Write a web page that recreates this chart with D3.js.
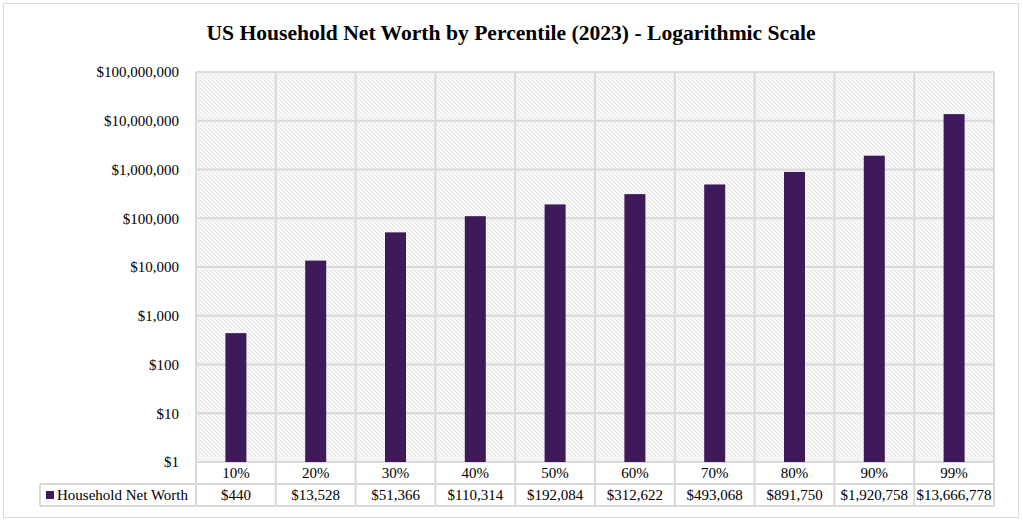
<!DOCTYPE html>
<html>
<head>
<meta charset="utf-8">
<script src="https://cdn.jsdelivr.net/npm/d3@7"></script>
<style>
	body { margin: 0; background: #fff; }
	text { font-family: "Liberation Serif", "Times New Roman", serif; fill: #000; }
</style>
</head>
<body>
<svg id="chart" width="1023" height="522"></svg>
<script>
// chart data
let percentiles = ["10%", "20%", "30%", "40%", "50%", "60%", "70%", "80%", "90%", "99%"];
let net_worth = [440, 13528, 51366, 110314, 192084, 312622, 493068, 891750, 1920758, 13666778];
let y_ticks = [1, 10, 100, 1000, 10000, 100000, 1000000, 10000000, 100000000];
let series_name = "Household Net Worth";
let chart_title = "US Household Net Worth by Percentile (2023) - Logarithmic Scale";

let bar_color = "#3f1a5a";
let grid_color = "#d9d9d9";

let plot_left = 196, plot_right = 994, plot_top = 72, plot_bottom = 462;
let row_h = 22;
let font_size = "15px";

let svg = d3.select("#chart");

// outer frame
svg.append("rect").attr("x", 3.5).attr("y", 3.5).attr("width", 1015).attr("height", 514)
	.attr("fill", "#fff").attr("stroke", grid_color).attr("stroke-width", 1);

// hatch pattern for plot background
let defs = svg.append("defs");
let pat = defs.append("pattern").attr("id", "hatch").attr("patternUnits", "userSpaceOnUse")
	.attr("width", 4).attr("height", 4);
pat.append("rect").attr("width", 4).attr("height", 4).attr("fill", "#f8f8f8");
pat.append("path").attr("d", "M-1,-1 L5,5 M-1,3 L1,5 M3,-1 L5,1")
	.attr("stroke", "#e6e6e6").attr("stroke-width", 1);

svg.append("text").attr("x", 511).attr("y", 40).attr("text-anchor", "middle")
	.style("font-size", "21.6px").style("font-weight", "bold").text(chart_title);

let x = d3.scaleBand().domain(percentiles).range([plot_left, plot_right]);
let y = d3.scaleLog().domain([1, 100000000]).range([plot_bottom, plot_top]);

svg.append("rect").attr("x", plot_left).attr("y", plot_top)
	.attr("width", plot_right - plot_left).attr("height", plot_bottom - plot_top)
	.attr("fill", "url(#hatch)");

// gridlines
let grid = svg.append("g").attr("stroke", grid_color).attr("stroke-width", 2);
grid.selectAll(".hg").data(y_ticks).enter().append("line")
	.attr("x1", plot_left).attr("x2", plot_right)
	.attr("y1", function (d) { return y(d); }).attr("y2", function (d) { return y(d); });
let x_edges = percentiles.map(function (d) { return x(d); }).concat([plot_right]);
grid.selectAll(".vg").data(x_edges).enter().append("line")
	.attr("y1", plot_top).attr("y2", plot_bottom + row_h * 2)
	.attr("x1", function (d) { return d; }).attr("x2", function (d) { return d; });

// y axis labels
let y_axis = d3.axisLeft(y).tickValues(y_ticks).tickSize(0).tickPadding(0)
	.tickFormat(function (d) { return "$" + d3.format(",")(d); });
let yg = svg.append("g").attr("transform", "translate(179,0)").call(y_axis);
yg.select(".domain").remove();
yg.selectAll("text").style("font-size", font_size).style("font-family", "Liberation Serif, serif").attr("dy", "0.32em");

// bars
let bar_w = 21;
svg.append("g").selectAll("rect").data(net_worth).enter().append("rect")
	.attr("x", function (d, i) { return x(percentiles[i]) + x.bandwidth() / 2 - bar_w / 2; })
	.attr("width", bar_w)
	.attr("y", function (d) { return y(d); })
	.attr("height", function (d) { return plot_bottom - y(d); })
	.attr("fill", bar_color);

// data table
let table = svg.append("g");
table.append("g").attr("stroke", grid_color).attr("stroke-width", 2)
	.selectAll("line").data([plot_bottom + row_h, plot_bottom + row_h * 2]).enter().append("line")
	.attr("x1", 40).attr("x2", plot_right)
	.attr("y1", function (d) { return d; }).attr("y2", function (d) { return d; });
table.append("line").attr("stroke", grid_color).attr("stroke-width", 2)
	.attr("x1", 40).attr("x2", 40).attr("y1", plot_bottom + row_h).attr("y2", plot_bottom + row_h * 2);

table.selectAll(".cat").data(percentiles).enter().append("text")
	.attr("x", function (d) { return x(d) + x.bandwidth() / 2; })
	.attr("y", plot_bottom + row_h / 2 + 5).attr("text-anchor", "middle")
	.style("font-size", font_size).text(function (d) { return d; });
table.selectAll(".val").data(net_worth).enter().append("text")
	.attr("x", function (d, i) { return x(percentiles[i]) + x.bandwidth() / 2; })
	.attr("y", plot_bottom + row_h * 1.5 + 5).attr("text-anchor", "middle")
	.style("font-size", font_size).text(function (d) { return "$" + d3.format(",")(d); });

// legend key
table.append("rect").attr("x", 46).attr("y", plot_bottom + row_h * 1.5 - 4).attr("width", 8).attr("height", 8)
	.attr("fill", bar_color);
table.append("text").attr("x", 57).attr("y", plot_bottom + row_h * 1.5 + 5)
	.style("font-size", font_size).text(series_name);
</script>
</body>
</html>
